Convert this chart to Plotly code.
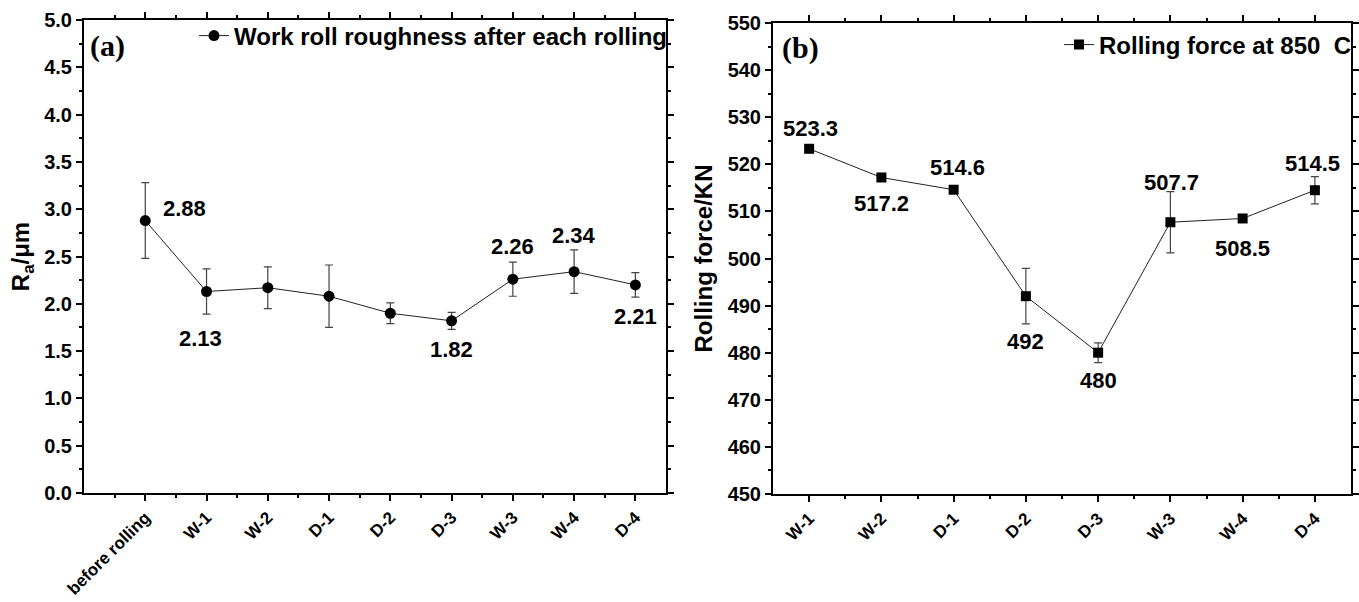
import plotly.graph_objects as go

# ---------------- data ----------------
rough_categories = ["before rolling", "W-1", "W-2", "D-1", "D-2", "D-3", "W-3", "W-4", "D-4"]
rough_values = [2.88, 2.13, 2.17, 2.08, 1.90, 1.82, 2.26, 2.34, 2.20]
rough_errors = [0.40, 0.24, 0.22, 0.33, 0.11, 0.09, 0.18, 0.23, 0.13]
rough_labels = ["2.88", "2.13", "", "", "", "1.82", "2.26", "2.34", "2.21"]

force_categories = ["W-1", "W-2", "D-1", "D-2", "D-3", "W-3", "W-4", "D-4"]
force_values = [523.3, 517.2, 514.6, 492.0, 480.0, 507.7, 508.5, 514.5]
force_errors = [0.8, 0.3, 0.3, 5.9, 2.1, 6.5, 0.3, 2.9]
force_labels = ["523.3", "517.2", "514.6", "492", "480", "507.7", "508.5", "514.5"]

rough_yticks = [0.0, 0.5, 1.0, 1.5, 2.0, 2.5, 3.0, 3.5, 4.0, 4.5, 5.0]
force_yticks = [450, 460, 470, 480, 490, 500, 510, 520, 530, 540, 550]

# label offsets in pixels (style)
rough_offsets = [(39, 12), (-6, -47), (0, 0), (0, 0), (0, 0), (0, -29), (0, 33), (0, 36), (0, -32)]
force_offsets = [(1, 20), (0, -26), (4, 22), (0, -45), (0, -28), (1, 40), (0, -30), (-2, 27)]

W, H = 1359, 602
SANS = "Liberation Sans, Arial, sans-serif"
SERIF = "Liberation Serif, Times New Roman, serif"

fig = go.Figure()

xr = list(range(len(rough_categories)))
xf = list(range(len(force_categories)))

fig.add_trace(go.Scatter(
    x=xr, y=rough_values, mode="lines+markers",
    name="Work roll roughness after each rolling",
    line=dict(color="#222222", width=1),
    marker=dict(symbol="circle", size=11, color="black"),
    error_y=dict(type="data", array=rough_errors, visible=True, color="#444444", thickness=1.2, width=4),
    xaxis="x", yaxis="y", legend="legend",
))

fig.add_trace(go.Scatter(
    x=xf, y=force_values, mode="lines+markers",
    name="Rolling force at 850 \u00a0C",
    line=dict(color="#222222", width=1),
    marker=dict(symbol="square", size=10, color="black"),
    error_y=dict(type="data", array=force_errors, visible=True, color="#444444", thickness=1.2, width=4),
    xaxis="x2", yaxis="y2", legend="legend2",
))

annotations = []
for i, (lab, v) in enumerate(zip(rough_labels, rough_values)):
    if lab:
        annotations.append(dict(x=xr[i], y=v, xref="x", yref="y", text=lab, showarrow=False,
                                xshift=rough_offsets[i][0], yshift=rough_offsets[i][1],
                                font=dict(family=SANS, size=22, color="black", weight="bold")))
for i, (lab, v) in enumerate(zip(force_labels, force_values)):
    if lab:
        annotations.append(dict(x=xf[i], y=v, xref="x2", yref="y2", text=lab, showarrow=False,
                                xshift=force_offsets[i][0], yshift=force_offsets[i][1],
                                font=dict(family=SANS, size=22, color="black", weight="bold")))

annotations.append(dict(x=107 / W, y=1 - 46 / H, xref="paper", yref="paper", text="(a)", showarrow=False,
                        xanchor="center", yanchor="middle",
                        font=dict(family=SERIF, size=30, color="black", weight="bold")))
annotations.append(dict(x=800 / W, y=1 - 48 / H, xref="paper", yref="paper", text="(b)", showarrow=False,
                        xanchor="center", yanchor="middle",
                        font=dict(family=SERIF, size=30, color="black", weight="bold")))

ytickfont = dict(family=SANS, size=20, color="black", weight="bold")
xtickfont = dict(family=SANS, size=17, color="black", weight="bold")
common_axis = dict(showline=True, linewidth=2, linecolor="black", mirror="allticks",
                   ticks="outside", ticklen=6, tickwidth=1.5, tickcolor="black",
                   showgrid=False, zeroline=False, automargin=False)
minor_style = dict(ticklen=3, tickwidth=1.5, tickcolor="black", ticks="outside")
title_font = dict(family=SANS, size=24, color="black", weight="bold")

rough_minor = [i + 0.5 for i in [-1] + xr[:-1]]
force_minor = [i + 0.5 for i in xf[:-1]]

fig.update_layout(
    width=W, height=H,
    margin=dict(l=0, r=0, t=0, b=0, autoexpand=False),
    paper_bgcolor="white", plot_bgcolor="white",
    showlegend=True,
    annotations=annotations,
    xaxis=dict(domain=[84 / W, 666 / W], range=[-1, len(rough_categories) - 0.5],
               tickmode="array", tickvals=xr, ticktext=rough_categories, tickangle=-45,
               minor=dict(tickvals=rough_minor, **minor_style),
               anchor="y", tickfont=xtickfont, **common_axis),
    yaxis=dict(domain=[1 - 493 / H, 1 - 20 / H], range=[0, 5], tickmode="array",
               tickvals=rough_yticks, ticktext=[f"{t:.1f}" for t in rough_yticks],
               minor=dict(dtick=0.25, **minor_style),
               anchor="x", tickfont=ytickfont,
               title=dict(text="R<sub>a</sub>/μm", standoff=8, font=title_font),
               **common_axis),
    xaxis2=dict(domain=[773 / W, 1351 / W], range=[-0.5, len(force_categories) - 0.5],
                tickmode="array", tickvals=xf, ticktext=force_categories, tickangle=-45,
                minor=dict(tickvals=force_minor, **minor_style),
                anchor="y2", tickfont=xtickfont, **common_axis),
    yaxis2=dict(domain=[1 - 494 / H, 1 - 23 / H], range=[450, 550], tickmode="array",
                tickvals=force_yticks, ticktext=[str(t) for t in force_yticks],
                minor=dict(dtick=5, **minor_style),
                anchor="x2", tickfont=ytickfont,
                title=dict(text="Rolling force/KN", standoff=8, font=title_font),
                **common_axis),
    legend=dict(x=672 / W, y=1 - 36 / H, xanchor="right", yanchor="middle",
                bgcolor="rgba(0,0,0,0)", borderwidth=0,
                font=dict(family=SANS, size=24, color="black", weight="bold")),
    legend2=dict(x=1357 / W, y=1 - 45 / H, xanchor="right", yanchor="middle",
                 bgcolor="rgba(0,0,0,0)", borderwidth=0,
                 font=dict(family=SANS, size=24, color="black", weight="bold")),
)

fig.write_html("out.html")
